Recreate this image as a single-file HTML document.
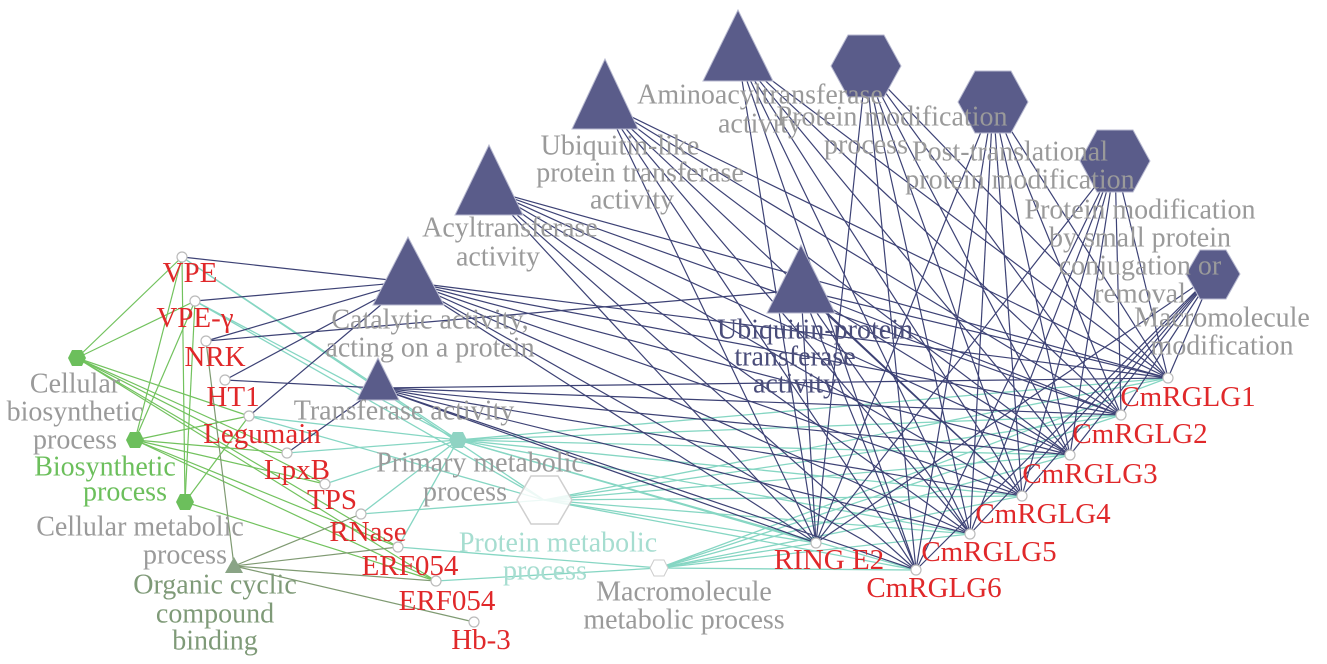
<!DOCTYPE html>
<html><head><meta charset="utf-8"><style>
html,body{margin:0;padding:0;background:#fff;width:1327px;height:664px;overflow:hidden}
svg{display:block}
text{font-family:"Liberation Serif",serif;text-anchor:middle;dominant-baseline:central}
.g{fill:#9a9a9a;font-size:28px}
.r{fill:#e0282a;font-size:29px}
</style></head><body>
<svg id="s" width="1327" height="664" viewBox="0 0 1327 664" xmlns="http://www.w3.org/2000/svg">
<g id="edges"></g>
<g id="shapes">
<polygon points="408,237 373,305 444,305" fill="#5a5c8a" stroke="#b8bad0"/>
<polygon points="378,358 357,400 399,400" fill="#5a5c8a" stroke="#b8bad0"/>
<polygon points="489,145 455,215 523,215" fill="#5a5c8a" stroke="#b8bad0"/>
<polygon points="605,59 572,129 638,129" fill="#5a5c8a" stroke="#b8bad0"/>
<polygon points="738,10 703,81 773,81" fill="#5a5c8a" stroke="#b8bad0"/>
<polygon points="801,245 767,313 835,313" fill="#5a5c8a" stroke="#b8bad0"/>
<polygon points="831,66 848,35 884,35 901,66 884,97 848,97" fill="#5a5c8a" stroke="#b8bad0"/>
<polygon points="958,102 975,71 1011,71 1028,102 1011,133 975,133" fill="#5a5c8a" stroke="#b8bad0"/>
<polygon points="1080,161 1097,130 1133,130 1150,161 1133,192 1097,192" fill="#5a5c8a" stroke="#b8bad0"/>
<polygon points="1186,274 1200,250 1226,250 1240,274 1226,299 1200,299" fill="#5a5c8a" stroke="#b8bad0"/>
<polygon points="68,358 72,350 82,350 86,358 82,366 72,366" fill="#6cbf5c"/>
<polygon points="126,440 130,432 140,432 144,440 140,448 130,448" fill="#6cbf5c"/>
<polygon points="176,502 180,494 190,494 194,502 190,510 180,510" fill="#6cbf5c"/>
<polygon points="234,557 225,573 243,573" fill="#8aa486"/>
<polygon points="449,440 453,432 463,432 467,440 463,448 453,448" fill="#8fd3c3"/>
<polygon points="517,500 531,476 558,476 572,500 558,524 531,524" fill="#fff" fill-opacity="0.85" stroke="#cfcfcf" stroke-width="1.5"/>
<polygon points="650,568 654,560 664,560 668,568 664,576 654,576" fill="#fff" stroke="#ccc"/>
</g>
<g id="genes" fill="#fff" stroke="#bbb" stroke-width="1.2"></g>
<g>
<text class="g" x="760" y="95">Aminoacyltransferase</text><text class="g" x="760" y="124">activity</text>
<text class="g" x="892" y="117">Protein modification</text><text class="g" x="866" y="145">process</text>
<text class="g" x="620" y="146">Ubiquitin-like</text><text class="g" x="640" y="173">protein transferase</text><text class="g" x="632" y="200">activity</text>
<text class="g" x="1010" y="152">Post-translational</text><text class="g" x="1020" y="180">protein modification</text>
<text class="g" x="510" y="228">Acyltransferase</text><text class="g" x="498" y="257">activity</text>
<text class="g" x="1140" y="210">Protein modification</text><text class="g" x="1140" y="238">by small protein</text><text class="g" x="1140" y="266">conjugation or</text><text class="g" x="1140" y="294">removal</text>
<text class="g" x="430" y="320">Catalytic activity,</text><text class="g" x="430" y="348">acting on a protein</text>
<text x="815" y="330" style="fill:#4a4d7a;font-size:28px">Ubiquitin-protein</text><text x="795" y="357" style="fill:#4a4d7a;font-size:28px">transferase</text><text x="795" y="384" style="fill:#4a4d7a;font-size:28px">activity</text>
<text class="g" x="1222" y="318">Macromolecule</text><text class="g" x="1222" y="346">modification</text>
<text class="g" x="404" y="411">Transferase activity</text>
<text class="g" x="480" y="463">Primary metabolic</text><text class="g" x="465" y="492">process</text>
<text x="558" y="543" style="fill:#a6ddd0;font-size:28px">Protein metabolic</text><text x="545" y="571" style="fill:#a6ddd0;font-size:28px">process</text>
<text class="g" x="684" y="592">Macromolecule</text><text class="g" x="684" y="620">metabolic process</text>
<text class="g" x="75" y="384">Cellular</text><text class="g" x="75" y="412">biosynthetic</text><text class="g" x="75" y="440">process</text>
<text x="105" y="467" style="fill:#6cbf5c;font-size:28px">Biosynthetic</text><text x="125" y="492" style="fill:#6cbf5c;font-size:28px">process</text>
<text class="g" x="140" y="527">Cellular metabolic</text><text class="g" x="185" y="555">process</text>
<text x="215" y="585" style="fill:#7f9a78;font-size:28px">Organic cyclic</text><text x="215" y="614" style="fill:#7f9a78;font-size:28px">compound</text><text x="215" y="641" style="fill:#7f9a78;font-size:28px">binding</text>
<text class="r" x="190" y="273">VPE</text>
<text class="r" x="195" y="318">VPE-γ</text>
<text class="r" x="215" y="357">NRK</text>
<text class="r" x="233" y="397">HT1</text>
<text class="r" x="262" y="434">Legumain</text>
<text class="r" x="297" y="470">LpxB</text>
<text class="r" x="332" y="500">TPS</text>
<text class="r" x="368" y="532">RNase</text>
<text class="r" x="410" y="566">ERF054</text>
<text class="r" x="447" y="601">ERF054</text>
<text class="r" x="481" y="640">Hb-3</text>
<text class="r" x="1188" y="397">CmRGLG1</text>
<text class="r" x="1140" y="434">CmRGLG2</text>
<text class="r" x="1090" y="474">CmRGLG3</text>
<text class="r" x="1043" y="514">CmRGLG4</text>
<text class="r" x="989" y="552">CmRGLG5</text>
<text class="r" x="934" y="588">CmRGLG6</text>
<text class="r" x="829" y="560">RING E2</text>
</g>
</svg>
<script>
var G={VPE:[182,257],VPEg:[195,301],NRK:[206,341],HT1:[225,380],Leg:[249,416],LpxB:[287,453],TPS:[325,484],RN:[361,514],E1:[398,547],E2:[436,581],Hb:[474,622],
G1:[1168,378],G2:[1121,415],G3:[1070,455],G4:[1022,496],G5:[970,534],G6:[916,570],R:[816,543]};
var T={cat:[408,282],trans:[378,388],acyl:[489,190],ubl:[605,104],amino:[738,55],ubp:[801,290],pmp:[866,66],ptm:[993,102],pmsm:[1115,161],mm:[1213,274],
prim:[458,440],prot:[544,500],macro:[659,568],cb:[77,358],bio:[135,440],cm:[185,502],org:[234,566]};
var right=["G1","G2","G3","G4","G5","G6","R"];
var E=[];
function add(t,gs,c,w){gs.forEach(function(g){E.push([t,g,c,w]);});}
var navy="#3d4275",teal="#86d6c3",green="#72c25e",olive="#7f9a72";
["prim","prot","macro"].forEach(function(t){add(t,right,teal,1.3);});
add("prim",["VPE","VPEg","Leg","LpxB","TPS","RN","E1"],teal,1.3);
add("prot",["VPE","VPEg","Leg","RN"],teal,1.3);
add("macro",["E1","E2"],teal,1.3);
add("cb",["VPE","VPEg","LpxB","TPS","E1","E2","Leg"],green,1.2);
add("bio",["VPE","VPEg","Leg","LpxB","TPS","E1","E2"],green,1.2);
add("cm",["VPE","VPEg","Leg","E2"],green,1.2);
add("org",["NRK","RN","E1","E2","Hb"],olive,1.2);
["cat","trans","acyl","ubl","amino","ubp","pmp","ptm","pmsm","mm"].forEach(function(t){add(t,right,navy,1.2);});
add("cat",["VPE","VPEg","NRK","HT1","Leg"],navy,1.2);
add("trans",["HT1","LpxB"],navy,1.2);
add("ubp",["NRK"],navy,1.2);
var ns="http://www.w3.org/2000/svg",eg=document.getElementById("edges");
E.forEach(function(e){var a=T[e[0]],b=G[e[1]];var l=document.createElementNS(ns,"line");
l.setAttribute("x1",a[0]);l.setAttribute("y1",a[1]);l.setAttribute("x2",b[0]);l.setAttribute("y2",b[1]);
l.setAttribute("stroke",e[2]);l.setAttribute("stroke-width",e[3]);eg.appendChild(l);});
var gg=document.getElementById("genes");
for(var k in G){var c=document.createElementNS(ns,"circle");c.setAttribute("cx",G[k][0]);c.setAttribute("cy",G[k][1]);c.setAttribute("r",5);gg.appendChild(c);}
</script>
</body></html>
